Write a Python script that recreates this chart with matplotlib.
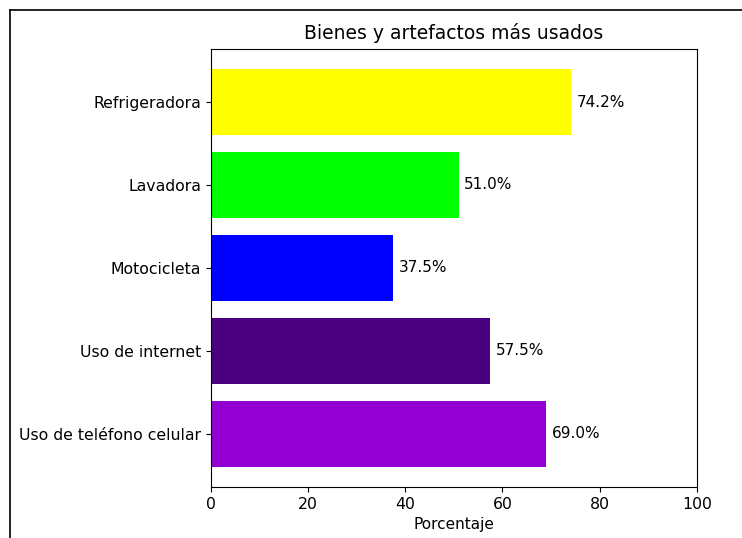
#!/usr/bin/env python3
"""
Horizontal bar chart: bienes y artefactos mas usados
"""

import matplotlib
matplotlib.use("Agg")
import matplotlib.pyplot as plt
from matplotlib.lines import Line2D

categorias = ["Uso de teléfono celular", "Uso de internet", "Motocicleta",
              "Lavadora", "Refrigeradora"]
porcentajes = [69.0, 57.5, 37.5, 51.0, 74.2]
colores = ["darkviolet", "indigo", "blue", "lime", "yellow"]
ticks_x = [0, 20, 40, 60, 80, 100]


def main():
    fig = plt.figure(figsize=(7.42, 5.38), dpi=100)
    ax = fig.add_axes([0.284, 0.095, 0.655, 0.814])

    bars = ax.barh(categorias, porcentajes, color=colores)
    ax.bar_label(bars, labels=[f"{v:.1f}%" for v in porcentajes],
                 padding=4, fontsize=11)
    ax.set_xlim(0, 100)
    ax.set_xticks(ticks_x)
    ax.tick_params(labelsize=11.3)
    ax.set_xlabel("Porcentaje", fontsize=11)
    ax.set_title("Bienes y artefactos más usados", fontsize=13.5, pad=7)

    # screenshot frame lines (left and top)
    fig.add_artist(Line2D([10 / 742, 10 / 742], [0, 1 - 10 / 538],
                          transform=fig.transFigure, color="black", lw=1.2))
    fig.add_artist(Line2D([10 / 742, 1], [1 - 10 / 538, 1 - 10 / 538],
                          transform=fig.transFigure, color="black", lw=1.2))

    fig.savefig("out.png", dpi=100)


if __name__ == '__main__':
    main()
